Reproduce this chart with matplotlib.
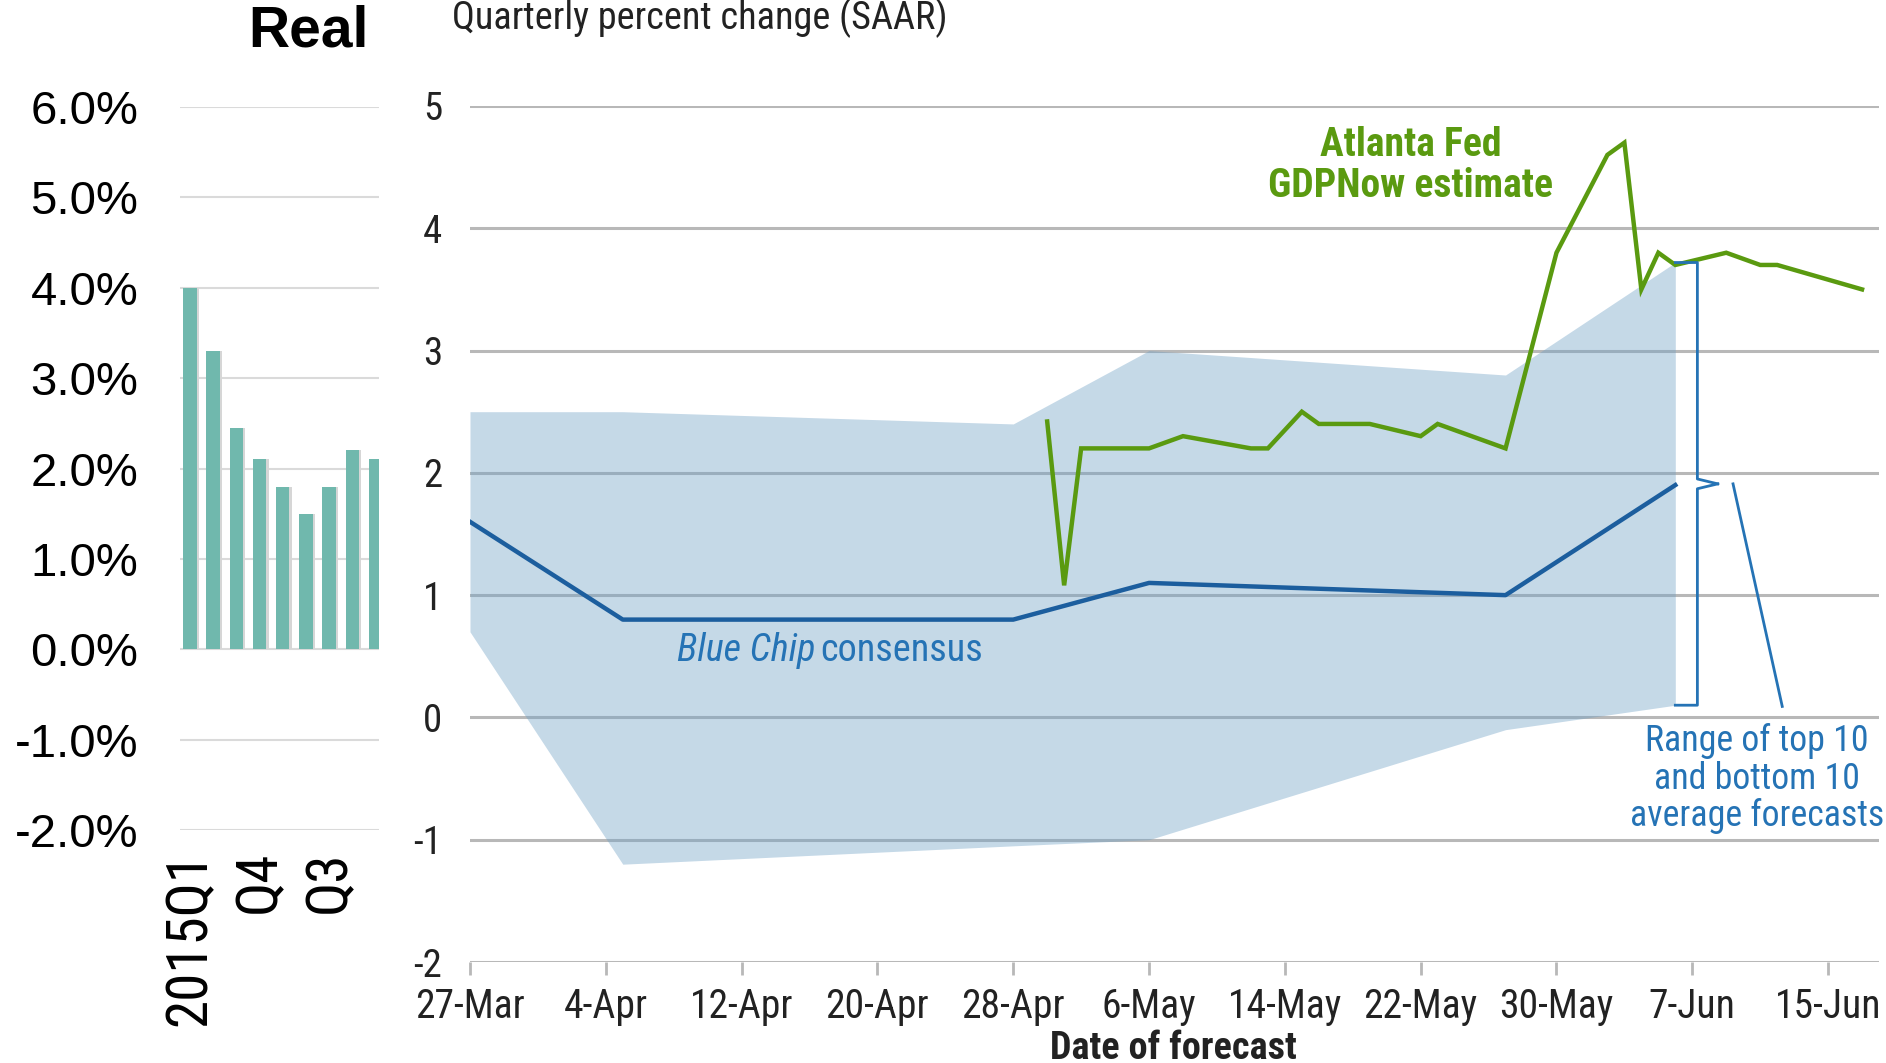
import matplotlib
matplotlib.use('Agg')
import matplotlib.pyplot as plt
from matplotlib import font_manager as fm
import pandas as pd
import numpy as np


def pick(fams):
    for f in fams:
        try:
            fm.findfont(fm.FontProperties(family=f), fallback_to_default=False)
            return f
        except Exception:
            pass
    return 'DejaVu Sans'


NARROW = pick(['Liberation Sans Narrow', 'Roboto Condensed', 'Liberation Sans'])
ARIAL = pick(['Liberation Sans', 'Arial', 'DejaVu Sans'])

# ---------------- left panel data ----------------
quarters = ['2015Q1', 'Q2', 'Q3', 'Q4', '2016Q1', 'Q2', 'Q3', 'Q4', '2017Q1']
real_growth = [4.0, 3.3, 2.45, 2.1, 1.8, 1.5, 1.8, 2.2, 2.1]
shown_quarter_idx = [0, 3, 6]
left_yticks = [-2, -1, 0, 1, 2, 3, 4, 5, 6]
left_yticklabels = ['-2.0%', '-1.0%', '0.0%', '1.0%', '2.0%', '3.0%', '4.0%', '5.0%', '6.0%']

# ---------------- right panel data ----------------
bc_dates = ['2017-03-27', '2017-04-05', '2017-04-28', '2017-05-06', '2017-05-27', '2017-06-06']
bc_consensus = [1.6, 0.8, 0.8, 1.1, 1.0, 1.9]
band_top10 = [2.5, 2.5, 2.4, 3.0, 2.8, 3.72]
band_bottom10 = [0.7, -1.2, -1.05, -1.0, -0.1, 0.1]

gdpnow_dates = ['2017-04-30', '2017-05-01', '2017-05-02', '2017-05-06', '2017-05-08',
                '2017-05-12', '2017-05-13', '2017-05-15', '2017-05-16', '2017-05-19',
                '2017-05-22', '2017-05-23', '2017-05-27', '2017-05-30', '2017-06-02',
                '2017-06-03', '2017-06-04', '2017-06-05', '2017-06-06', '2017-06-09',
                '2017-06-11', '2017-06-12', '2017-06-17']
gdpnow = [2.42, 1.08, 2.2, 2.2, 2.3,
          2.2, 2.2, 2.5, 2.4, 2.4,
          2.3, 2.4, 2.2, 3.8, 4.6,
          4.7, 3.5, 3.8, 3.7, 3.8,
          3.7, 3.7, 3.5]

xtick_dates = ['2017-03-27', '2017-04-04', '2017-04-12', '2017-04-20', '2017-04-28', '2017-05-06',
               '2017-05-14', '2017-05-22', '2017-05-30', '2017-06-07', '2017-06-15']
xtick_labels = ['27-Mar', '4-Apr', '12-Apr', '20-Apr', '28-Apr', '6-May',
                '14-May', '22-May', '30-May', '7-Jun', '15-Jun']
right_yticks = [-2, -1, 0, 1, 2, 3, 4, 5]
x_start, x_end = '2017-03-27', '2017-06-18'

# ---------------- colours ----------------
GREEN = '#5a9a10'
BLUE_LINE = '#1c5e9e'
BLUE_TEXT = '#2573b5'
BAND = (110 / 255, 160 / 255, 197 / 255)
GRID = '#b8b8b8'
TEAL = '#70b8ad'

fig = plt.figure(figsize=(18.86, 10.63), dpi=100)

# ================= left panel =================
axl = fig.add_axes([0.0954, 0.2192, 0.1055, 0.6801])
xq = np.arange(len(quarters))
for y in left_yticks:
    axl.axhline(y, color='#dadada', lw=1.5, zorder=1)
axl.bar(xq + 0.1, real_growth, width=0.58, color='#d6d6d6', zorder=2)
axl.bar(xq, real_growth, width=0.58, color=TEAL, zorder=3)
axl.set_xlim(-0.43, 8.15)
axl.set_ylim(-2, 6)
for s in axl.spines.values():
    s.set_visible(False)
axl.set_yticks(left_yticks)
axl.set_yticklabels(left_yticklabels, fontsize=34, family=ARIAL)
axl.set_xticks([xq[i] for i in shown_quarter_idx])
axl.set_xticklabels([quarters[i] for i in shown_quarter_idx], rotation=90,
                    fontsize=41, family=NARROW)
axl.tick_params(axis='y', length=0, pad=30)
axl.tick_params(axis='x', length=0, pad=15)
fig.text(0.1633, 0.970, 'Real', fontsize=41, fontweight='bold', family=ARIAL,
         ha='center', va='center')

# ================= right panel =================
ax = fig.add_axes([0.2492, 0.0950, 0.7471, 0.8053])
bcd = pd.to_datetime(bc_dates)
gd = pd.to_datetime(gdpnow_dates)
for y in right_yticks:
    ax.axhline(y, color=GRID, lw=2.2, zorder=2)
ax.fill_between(bcd, band_bottom10, band_top10, color=BAND, alpha=0.4, lw=0, zorder=4)
ax.plot(bcd, bc_consensus, color=BLUE_LINE, lw=3.2, zorder=6, solid_joinstyle='round')
ax.plot(gd, gdpnow, color=GREEN, lw=3.2, zorder=7, solid_joinstyle='miter')

ax.set_xlim(pd.Timestamp(x_start), pd.Timestamp(x_end))
ax.set_ylim(-2, 5)
for s in ax.spines.values():
    s.set_visible(False)
ax.set_xticks(pd.to_datetime(xtick_dates))
ax.set_xticklabels(xtick_labels, fontsize=28.5, family=NARROW, color='#222222')
ax.set_yticks(right_yticks)
ax.set_yticklabels([str(v) for v in right_yticks], fontsize=28, family=NARROW, color='#222222')
ax.tick_params(axis='x', length=9, width=2, color=GRID, pad=9)
ax.tick_params(axis='y', length=0, pad=20)

d0 = pd.Timestamp(x_start)
def day(n):
    return d0 + pd.Timedelta(days=n)

# annotations
ax.text(day(55.4), 4.51, 'Atlanta Fed\nGDPNow estimate', color=GREEN, fontsize=28.5,
        fontweight='bold', family=NARROW, ha='center', va='center', linespacing=1.1, zorder=8)
ax.text(day(20.35), 0.545, 'Blue Chip', color=BLUE_TEXT, fontsize=27.5, style='italic',
        family=NARROW, ha='right', va='center', zorder=8)
ax.text(day(20.65), 0.545, 'consensus', color=BLUE_TEXT, fontsize=27.5,
        family=NARROW, ha='left', va='center', zorder=8)
ax.text(day(75.8), -0.50, 'Range of top 10\nand bottom 10\naverage forecasts', color=BLUE_TEXT,
        fontsize=25.8, family=NARROW, ha='center', va='center', linespacing=1.05, zorder=8)

# brace marking the band range on the last survey date
top, bot = band_top10[-1], band_bottom10[-1]
mid = (top + bot) / 2
last = bcd[-1]
bx = last + pd.Timedelta(days=1.3)
nub = last + pd.Timedelta(days=2.5)
ax.plot([last, bx, bx, nub], [top, top, mid + 0.04, mid], color=BLUE_TEXT, lw=2, zorder=8,
        clip_on=False)
ax.plot([nub, bx, bx, last], [mid, mid - 0.04, bot, bot], color=BLUE_TEXT, lw=2, zorder=8,
        clip_on=False)
ax.plot([day(74.4), day(77.3)], [mid, 0.09], color=BLUE_TEXT, lw=2, zorder=8)

fig.text(0.2397, 0.983, 'Quarterly percent change (SAAR)', fontsize=27.5, family=NARROW,
         color='#222222', ha='left', va='center')
fig.text(0.622, 0.014, 'Date of forecast', fontsize=27.5, fontweight='bold', family=NARROW,
         color='#222222', ha='center', va='center')

fig.savefig('out.png', dpi=100)
